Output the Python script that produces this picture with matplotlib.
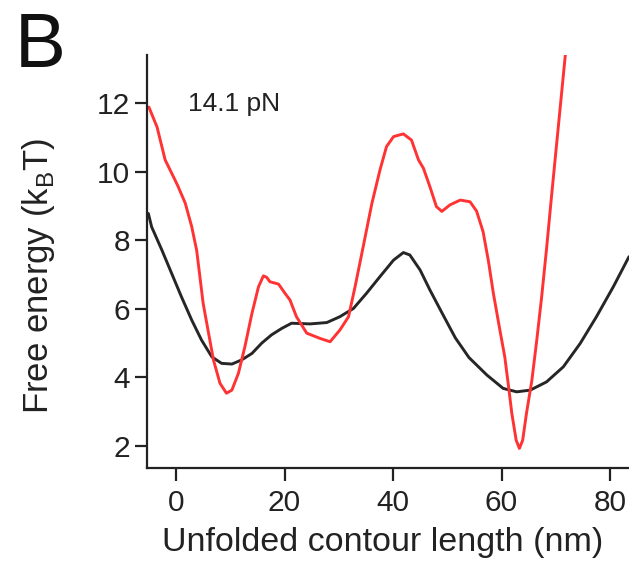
import numpy as np
import matplotlib.pyplot as plt

plt.rcParams['font.family'] = ['Liberation Sans', 'DejaVu Sans']

# energy landscape at 14.1 pN, red = measured, black = smoothed
x_red = [-5.0, -3.5, -2.0, -0.2, 0.4, 1.7, 2.9, 3.8, 4.4, 5.0, 6.0, 6.9, 8.1,
         9.3, 10.3, 11.5, 12.7, 14.0, 15.2, 16.1, 16.7, 17.3, 18.9, 20.1,
         21.0, 22.2, 24.1, 26.5, 28.4, 30.2, 31.8, 33.0, 34.5, 36.1, 37.6,
         38.8, 40.1, 41.9, 43.4, 44.7, 45.6, 46.8, 48.0, 49.0, 50.5, 52.4,
         54.2, 55.4, 56.6, 57.6, 58.5, 59.7, 60.6, 61.3, 61.9, 62.7, 63.3,
         63.9, 64.6, 65.6, 66.5, 67.4, 68.3, 69.2, 71.8]
y_red = [11.88, 11.3, 10.34, 9.76, 9.56, 9.08, 8.39, 7.71, 6.94, 6.16, 5.29,
         4.51, 3.83, 3.54, 3.63, 4.12, 4.9, 5.87, 6.64, 6.96, 6.92, 6.79,
         6.72, 6.45, 6.26, 5.77, 5.29, 5.14, 5.04, 5.38, 5.77, 6.64, 7.81,
         9.07, 10.05, 10.73, 11.02, 11.1, 10.92, 10.34, 10.1, 9.56, 8.98,
         8.84, 9.03, 9.17, 9.12, 8.85, 8.25, 7.38, 6.45, 5.38, 4.6, 3.73,
         2.95, 2.17, 1.93, 2.17, 2.95, 3.92, 5.09, 6.35, 7.75, 9.25,
         13.46]

x_blk = [-5.1, -4.5, -2.6, -0.8, 1.0, 2.9, 4.7, 6.6, 8.4, 10.3, 12.1, 14.0,
         15.8, 17.6, 19.5, 21.3, 24.7, 27.8, 30.2, 32.7, 35.1, 37.6, 40.1,
         41.9, 43.1, 45.0, 46.8, 49.3, 51.5, 54.0, 57.3, 60.3, 62.8, 65.3,
         68.3, 71.4, 74.5, 77.5, 80.6, 83.5]
y_blk = [8.78, 8.39, 7.71, 7.03, 6.35, 5.67, 5.09, 4.6, 4.41, 4.39, 4.51, 4.7,
         5.0, 5.24, 5.43, 5.58, 5.56, 5.6, 5.77, 6.01, 6.45, 6.94, 7.42,
         7.64, 7.57, 7.13, 6.55, 5.8, 5.15, 4.58, 4.07, 3.68, 3.58, 3.63,
         3.87, 4.31, 4.99, 5.77, 6.64, 7.52]

fig = plt.figure(figsize=(6.29, 5.61), dpi=100)
ax = fig.add_axes([0.2337, 0.1658, 0.7663, 0.7362])

ax.plot(x_blk, y_blk, color='#262626', lw=2.1, solid_capstyle='round',
        solid_joinstyle='round')
ax.plot(x_red, y_red, color='#ff3333', lw=2.1, solid_capstyle='round',
        solid_joinstyle='round')

ax.set_xlim(-5.35, 83.5)
ax.set_ylim(1.36, 13.4)
ax.set_xticks([0, 20, 40, 60, 80])
ax.set_yticks([2, 4, 6, 8, 10, 12])

for s in ['top', 'right']:
    ax.spines[s].set_visible(False)
for s in ['left', 'bottom']:
    ax.spines[s].set_linewidth(1.6)
    ax.spines[s].set_color('#222222')
ax.tick_params(direction='out', length=9, width=1.6, color='#222222',
               labelsize=21.5, labelcolor='#222222')
ax.tick_params(axis='x', pad=6)
ax.tick_params(axis='y', pad=3)

ax.set_xlabel('Unfolded contour length (nm)', fontsize=24.5, color='#222222')
ax.set_ylabel(r'Free energy (k$_\mathregular{B}$T)', fontsize=25, color='#222222')
ax.xaxis.set_label_coords(0.4886, -0.142)
ax.yaxis.set_label_coords(-0.187, 0.465)

ax.text(2.2, 11.97, '14.1 pN', fontsize=19, color='#222222', va='center')
fig.text(0.024, 0.8806, 'B', fontsize=55, color='#111111', va='baseline', ha='left')

fig.savefig('out.png', dpi=100)
